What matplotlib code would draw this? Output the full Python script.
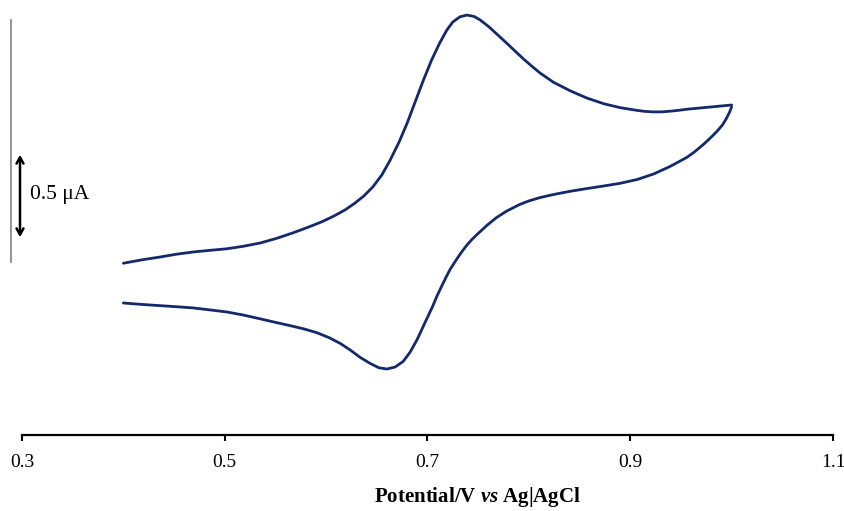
import matplotlib
matplotlib.use("Agg")
import matplotlib.pyplot as plt

# Forward (anodic) scan: potential (V) and current (µA, relative)
fwd_potential = [0.400, 0.418, 0.436, 0.452, 0.469, 0.485, 0.502, 0.518, 0.535, 0.551,
                 0.567, 0.582, 0.596, 0.608, 0.619, 0.628, 0.637, 0.646, 0.655, 0.663,
                 0.672, 0.680, 0.688, 0.696, 0.704, 0.712, 0.719, 0.725, 0.732, 0.739,
                 0.746, 0.752, 0.760, 0.769, 0.778, 0.787, 0.795, 0.803, 0.811, 0.824,
                 0.841, 0.857, 0.874, 0.890, 0.906, 0.914, 0.922, 0.931, 0.940, 0.948,
                 0.956, 0.967, 0.978, 0.989, 1.000]
fwd_current = [0.976, 0.995, 1.011, 1.027, 1.040, 1.049, 1.058, 1.072, 1.091, 1.117,
               1.148, 1.180, 1.212, 1.245, 1.280, 1.316, 1.357, 1.409, 1.478, 1.560,
               1.665, 1.773, 1.895, 2.017, 2.130, 2.227, 2.300, 2.347, 2.376, 2.386,
               2.378, 2.358, 2.322, 2.275, 2.227, 2.178, 2.135, 2.095, 2.057, 2.005,
               1.955, 1.915, 1.882, 1.860, 1.845, 1.839, 1.836, 1.836, 1.840, 1.845,
               1.851, 1.857, 1.863, 1.869, 1.875]

# Reverse (cathodic) scan
rev_potential = [1.000, 0.998, 0.995, 0.991, 0.986, 0.980, 0.972, 0.963, 0.956, 0.939,
                 0.923, 0.907, 0.890, 0.874, 0.857, 0.840, 0.824, 0.811, 0.800, 0.791,
                 0.778, 0.768, 0.759, 0.749, 0.744, 0.739, 0.735, 0.731, 0.727, 0.722,
                 0.718, 0.714, 0.709, 0.705, 0.697, 0.690, 0.683, 0.676, 0.668, 0.660,
                 0.652, 0.643, 0.633, 0.624, 0.614, 0.603, 0.591, 0.578, 0.564, 0.550,
                 0.535, 0.518, 0.502, 0.485, 0.469, 0.452, 0.436, 0.418, 0.400]
rev_current = [1.864, 1.835, 1.800, 1.762, 1.728, 1.693, 1.650, 1.607, 1.578, 1.525,
               1.483, 1.452, 1.430, 1.415, 1.400, 1.384, 1.366, 1.349, 1.330, 1.310,
               1.272, 1.235, 1.193, 1.140, 1.112, 1.080, 1.050, 1.018, 0.983, 0.938,
               0.893, 0.846, 0.785, 0.730, 0.632, 0.545, 0.472, 0.418, 0.386, 0.375,
               0.382, 0.408, 0.443, 0.482, 0.520, 0.553, 0.581, 0.603, 0.622, 0.640,
               0.660, 0.682, 0.699, 0.711, 0.722, 0.729, 0.735, 0.742, 0.750]

xticks = [0.3, 0.5, 0.7, 0.9, 1.1]
xtick_labels = ["0.3", "0.5", "0.7", "0.9", "1.1"]
scale_bar_value = 0.5  # µA
scale_bar_start = 1.108

plt.rcParams['font.family'] = ['Liberation Serif', 'DejaVu Serif']
plt.rcParams['mathtext.fontset'] = 'custom'
plt.rcParams['mathtext.it'] = 'Liberation Serif:italic:bold'
plt.rcParams['mathtext.rm'] = 'Liberation Serif:bold'

fig = plt.figure(figsize=(8.45, 5.11), dpi=100)
ax = fig.add_axes([22/845, 76/511, 811/845, 435/511])

line_color = '#13296b'
ax.plot(fwd_potential, fwd_current, color=line_color, lw=2.0, solid_capstyle='round', solid_joinstyle='round')
ax.plot(rev_potential, rev_current, color=line_color, lw=2.0, solid_capstyle='round', solid_joinstyle='round')

ax.set_xlim(0.3, 1.1)
ax.set_ylim(0, 435/176)

for s in ['top', 'right', 'left']:
    ax.spines[s].set_visible(False)
ax.spines['bottom'].set_linewidth(1.6)
ax.spines['bottom'].set_color('black')
ax.set_yticks([])
ax.set_xticks(xticks)
ax.set_xticklabels(xtick_labels, fontsize=14)
ax.tick_params(axis='x', direction='out', length=4, width=1.5, pad=10)

# Decorative vertical line on the left
ax.plot([-11/811, -11/811], [(435-262)/435, (435-20)/435], transform=ax.transAxes,
        color='#8c8c8c', lw=1.3, clip_on=False)

# Scale bar
xbar = 0.3 + (20-22)/1013.75
ax.annotate('', xy=(xbar, scale_bar_start), xytext=(xbar, scale_bar_start + scale_bar_value),
            arrowprops=dict(arrowstyle='<->, head_length=0.45, head_width=0.25', lw=1.8, color='black'),
            annotation_clip=False)
ax.text(0.3 + (30-22)/1013.75, scale_bar_start + scale_bar_value/2 + 0.01, '0.5 μA',
        fontsize=15.5, va='center', ha='left')

ax.set_xlabel(r'Potential/V $vs$ Ag|AgCl', fontsize=15, fontweight='bold')
ax.xaxis.set_label_coords((477-22)/811, -(497-435)/435)
ax.xaxis.label.set_va('center')

fig.savefig('out.png', dpi=100)
